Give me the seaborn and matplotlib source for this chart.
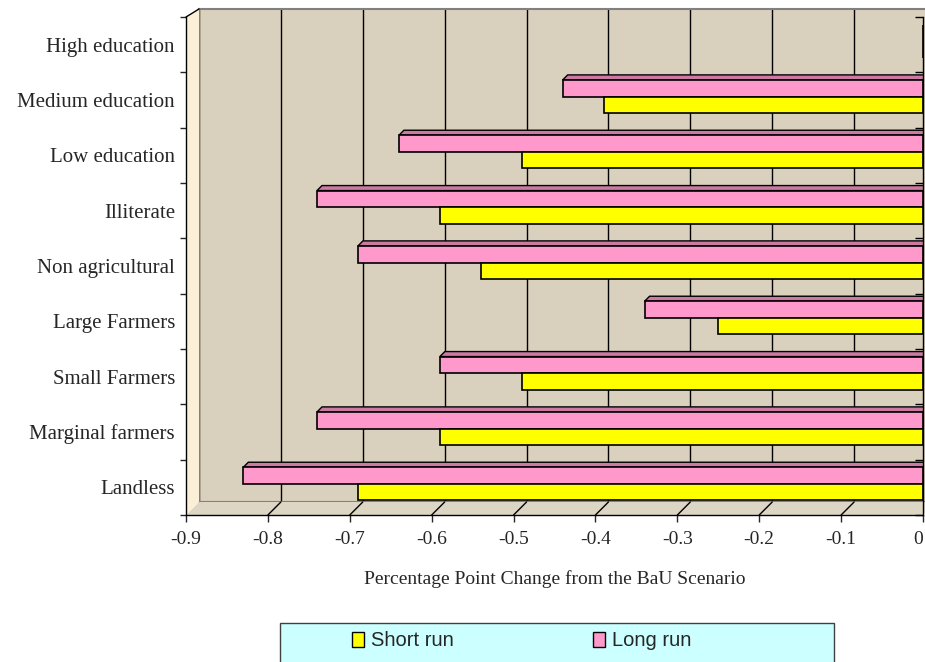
import numpy as np
import pandas as pd
import matplotlib
matplotlib.use("Agg")
import matplotlib.pyplot as plt
import seaborn as sns
from matplotlib.patches import Patch, Polygon, Rectangle
from matplotlib.transforms import ScaledTranslation

# ---- data ----
groups = ["High education", "Medium education", "Low education", "Illiterate",
          "Non agricultural", "Large Farmers", "Small Farmers",
          "Marginal farmers", "Landless"]
short_run = [0.0, -0.39, -0.49, -0.59, -0.54, -0.25, -0.49, -0.59, -0.69]
long_run = [0.0, -0.44, -0.64, -0.74, -0.69, -0.34, -0.59, -0.74, -0.83]
xticks = [-0.9, -0.8, -0.7, -0.6, -0.5, -0.4, -0.3, -0.2, -0.1, 0.0]
xtick_labels = ["-0.9", "-0.8", "-0.7", "-0.6", "-0.5", "-0.4", "-0.3", "-0.2", "-0.1", "0"]
runs = ["Short run", "Long run"]
colors = {"Short run": "#FFFF00", "Long run": "#FF99CC"}

df = pd.DataFrame({
    "group": groups * 2,
    "run": ["Short run"] * len(groups) + ["Long run"] * len(groups),
    "value": short_run + long_run,
})

sns.set_style("white")
plt.rcParams["font.family"] = ["Liberation Serif", "DejaVu Serif"]

W, H = 925, 662
fig = plt.figure(figsize=(W / 100, H / 100), dpi=100)

# back wall of the 3D chart
wall = fig.add_axes([199 / W, (H - 502) / H, 737 / W, 493 / H])
wall.set_facecolor("#D9D0BD")
wall.set_xlim(-0.9, 0)
wall.set_xticks(xticks)
wall.set_yticks([])
wall.grid(True, axis="x", color="black", lw=1)
wall.tick_params(length=0, labelbottom=False, labelleft=False)
for s in ["left", "top", "bottom"]:
    wall.spines[s].set_color("#808080")
    wall.spines[s].set_linewidth(1.5)
wall.spines["right"].set_visible(False)

# front axes with the bars
ax = fig.add_axes([186 / W, (H - 515) / H, 737 / W, 498 / H])
ax.patch.set_alpha(0)
sns.barplot(data=df, y="group", x="value", hue="run", order=groups,
            hue_order=["Long run", "Short run"], palette=colors, orient="h",
            width=0.6, edgecolor="black", linewidth=1.2, errorbar=None,
            saturation=1, legend=False, ax=ax)
bars = list(ax.patches)
ax.set_xlim(-0.9, 0)
ax.set_ylim(len(groups) - 0.5, -0.5)

px_x = 0.9 / 737
px_y = len(groups) / 498.0
off = ScaledTranslation(0, 0.035, fig.dpi_scale_trans)

# bars with a small 3D top face
for p in bars:
    p.set_transform(ax.transData + off)
    p.set_zorder(2)
    w = p.get_width()
    if w == 0:
        continue
    xl, xr = min(p.get_x(), p.get_x() + w), max(p.get_x(), p.get_x() + w)
    yt = p.get_y()
    fc = np.array(p.get_facecolor()[:3]) * 0.8
    top = Polygon([(xl, yt), (xl + 5 * px_x, yt - 5 * px_y),
                   (xr + 5 * px_x, yt - 5 * px_y), (xr, yt)],
                  closed=True, facecolor=fc, edgecolor="black", lw=1.0,
                  transform=ax.transData + off, zorder=1.5)
    ax.add_patch(top)

# floor and side wall
yb = len(groups) - 0.5
floor = Polygon([(-0.9, yb), (0, yb), (13 * px_x, yb - 13 * px_y),
                 (-0.9 + 13 * px_x, yb - 13 * px_y)], closed=True,
                facecolor="#DED6C4", edgecolor="none", zorder=0.5, clip_on=False)
ax.add_patch(floor)
side = Polygon([(-0.9, yb), (-0.9 + 13 * px_x, yb - 13 * px_y),
                (-0.9 + 13 * px_x, -0.5 - 8 * px_y), (-0.9, -0.5)], closed=True,
               facecolor="#FCEFD8", edgecolor="none", zorder=0.5, clip_on=False)
ax.add_patch(side)
ax.plot([-0.9, -0.9 + 13 * px_x], [-0.5, -0.5 - 8 * px_y], color="black",
        lw=1, clip_on=False, zorder=0.6)
for t in xticks[1:-1]:
    ax.plot([t, t + 13 * px_x], [yb, yb - 13 * px_y], color="black", lw=1,
            clip_on=False, zorder=0.6)

# category axis ticks on the 0 line
bounds = np.arange(-0.5, len(groups), 1.0)
ax.hlines(bounds, -8 * px_x, 0, color="black", lw=1, clip_on=False, zorder=3)

ax.set_xticks(xticks)
ax.set_xticklabels(xtick_labels)
ax.get_xticklabels()[-1].set_horizontalalignment("right")
ax.set_yticks(range(len(groups)))
ax.set_yticklabels(groups)
ax.set_yticks(bounds, minor=True)
ax.tick_params(axis="x", length=5, width=1, direction="out", pad=6.5,
               labelsize=14, bottom=True)
ax.tick_params(axis="y", which="major", length=0, pad=8, labelsize=15)
ax.tick_params(axis="y", which="minor", length=4.3, width=1, direction="out",
               left=True)
ax.spines["top"].set_visible(False)
for s in ["left", "bottom", "right"]:
    ax.spines[s].set_color("black")
    ax.spines[s].set_linewidth(1)
ax.set_ylabel("")
ax.set_xlabel("Percentage Point Change from the BaU Scenario", fontsize=14,
              labelpad=16)

# legend
fig.add_artist(Rectangle((280 / W, -0.01), 554 / W, (H - 623) / H + 0.01,
                         transform=fig.transFigure, facecolor="#CCFFFF",
                         edgecolor="#404040", lw=1, zorder=0))
handles = [Patch(facecolor=colors[r], edgecolor="black", lw=1) for r in runs]
fig.legend(handles, runs, loc="center left",
           bbox_to_anchor=(352 / W, 1 - 641 / H), ncol=2, frameon=False,
           handlelength=0.6, handleheight=0.8, handletextpad=0.35,
           columnspacing=6.9, borderpad=0, borderaxespad=0,
           prop={"family": "Liberation Sans", "size": 14.5})

fig.savefig("out.png", dpi=100)
